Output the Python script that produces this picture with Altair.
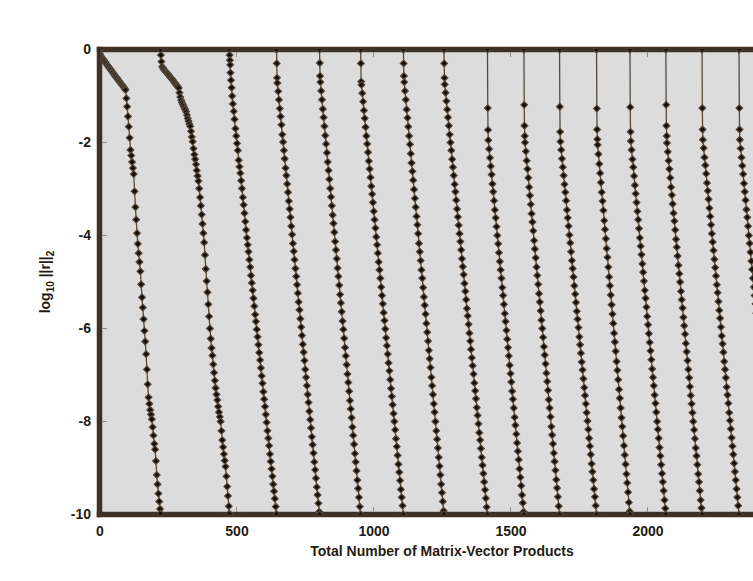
import altair as alt
import pandas as pd

# ---- data: (matrix-vector products, log10 ||r||2) per restart cycle ----
c01 = [(0,0),(1,-0.09),(3,-0.13),(6,-0.15),(9,-0.18),(12,-0.20),(15,-0.22),(18,-0.25),(21,-0.27),(24,-0.30),(27,-0.32),(30,-0.35),(33,-0.37),(36,-0.40),(39,-0.42),(42,-0.44),(45,-0.47),(48,-0.49),(51,-0.52),(54,-0.54),(57,-0.57),(60,-0.59),(63,-0.61),(66,-0.64),(69,-0.66),(72,-0.68),(75,-0.71),(78,-0.73),(81,-0.75),(84,-0.77),(87,-0.80),(90,-0.82),(93,-0.85),(95,-0.87),
       (98,-1.05),(101,-1.23),(104,-1.44),(107,-1.66),(110,-1.90),(113,-2.16),(116,-2.28),(119,-2.42),(122,-2.55),(125,-2.68),(128,-3.05),(131,-3.39),(134,-3.66),(137,-3.95),(140,-4.18),(143,-4.38),(146,-4.57),(149,-4.77),(152,-5.05),(155,-5.33),(158,-5.55),(161,-5.80),(164,-6.05),(167,-6.28),(170,-6.55),(173,-6.88),(176,-7.20),(179,-7.48),(182,-7.62),(185,-7.75),(188,-7.85),(191,-7.95),(194,-8.12),(197,-8.30),(200,-8.48),(203,-8.60),(206,-8.85),(209,-9.15),(212,-9.35),(215,-9.55),(218,-9.72),(221,-9.88),(223,-9.98)]
c02 = [(223,0),(224,-0.12),(226,-0.26),(229,-0.37),(232,-0.40),(235,-0.43),(238,-0.45),(241,-0.47),(244,-0.49),(247,-0.51),(250,-0.53),(253,-0.55),(256,-0.58),(259,-0.60),(262,-0.62),(265,-0.64),(268,-0.66),(271,-0.69),(274,-0.71),(277,-0.74),(280,-0.76),(283,-0.78),(286,-0.80),(289,-0.83),(292,-0.93),(295,-1.02),(298,-1.09),(301,-1.14),(304,-1.18),(307,-1.22),(310,-1.26),(313,-1.29),(316,-1.34),(319,-1.41),(322,-1.48),(325,-1.54),(328,-1.60),(331,-1.65),(334,-1.76),(337,-1.88),(340,-1.98),(343,-2.13),(346,-2.26),(349,-2.36),(352,-2.47),(355,-2.60),(358,-2.72),(361,-2.83),(364,-2.99),(367,-3.18),(370,-3.36),(373,-3.55),(376,-3.75),(379,-3.95),(382,-4.15),(385,-4.42),(388,-4.72),(391,-4.98),(394,-5.22),(397,-5.48),(400,-5.74),(403,-6.00),(406,-6.22),(409,-6.42),(412,-6.58),(415,-6.77),(418,-6.95),(421,-7.12),(424,-7.28),(427,-7.42),(430,-7.54),(433,-7.68),(436,-7.80),(439,-7.90),(442,-8.00),(445,-8.20),(448,-8.40),(451,-8.55),(454,-8.70),(457,-8.84),(460,-8.97),(463,-9.18),(466,-9.40),(469,-9.60),(472,-9.82),(474,-9.98)]
c03 = [(474,0),(475,-0.12),(476,-0.23),(477,-0.33),(478,-0.50),(480,-0.66),(482,-0.82),(484,-1.00),(487,-1.17),(490,-1.33),(493,-1.50),(496,-1.70),(499,-1.86),(502,-2.02),(505,-2.17),(508,-2.38),(511,-2.52),(514,-2.66),(517,-2.82),(520,-2.99),(523,-3.18),(526,-3.34),(529,-3.52),(532,-3.70),(535,-3.88),(538,-4.05),(541,-4.20),(544,-4.35),(547,-4.52),(550,-4.68),(553,-4.86),(556,-5.02),(559,-5.18),(562,-5.35),(565,-5.52),(568,-5.70),(571,-5.85),(574,-6.02),(577,-6.18),(580,-6.35),(583,-6.52),(586,-6.68),(589,-6.85),(592,-7.02),(595,-7.18),(598,-7.36),(601,-7.52),(604,-7.68),(607,-7.85),(610,-8.02),(613,-8.20),(616,-8.36),(619,-8.52),(622,-8.70),(625,-8.86),(628,-9.02),(631,-9.18),(634,-9.35),(637,-9.50),(640,-9.66),(643,-9.83),(646,-9.99)]
c04 = [(646,0),(647,-0.30),(648,-0.61),(649,-0.72),(652,-0.90),(655,-1.08),(658,-1.27),(661,-1.44),(664,-1.62),(667,-1.83),(670,-1.99),(673,-2.17),(676,-2.35),(679,-2.55),(682,-2.71),(685,-2.89),(688,-3.07),(691,-3.26),(694,-3.43),(697,-3.61),(700,-3.80),(703,-3.98),(706,-4.17),(709,-4.34),(712,-4.52),(715,-4.71),(718,-4.88),(721,-5.06),(724,-5.24),(727,-5.43),(730,-5.60),(733,-5.79),(736,-5.97),(739,-6.15),(742,-6.34),(745,-6.51),(748,-6.69),(751,-6.88),(754,-7.05),(757,-7.23),(760,-7.42),(763,-7.59),(766,-7.78),(769,-7.96),(772,-8.14),(775,-8.33),(778,-8.50),(781,-8.68),(784,-8.87),(787,-9.04),(790,-9.22),(793,-9.41),(796,-9.58),(799,-9.76),(802,-9.94),(803,-10.0)]
c05 = [(803,0),(804,-0.29),(805,-0.57),(806,-0.70),(809,-0.89),(812,-1.08),(815,-1.28),(818,-1.46),(821,-1.65),(824,-1.85),(827,-2.03),(830,-2.22),(833,-2.42),(836,-2.60),(839,-2.79),(842,-2.99),(845,-3.17),(848,-3.36),(851,-3.56),(854,-3.74),(857,-3.93),(860,-4.13),(863,-4.31),(866,-4.50),(869,-4.70),(872,-4.88),(875,-5.07),(878,-5.27),(881,-5.45),(884,-5.64),(887,-5.84),(890,-6.02),(893,-6.21),(896,-6.41),(899,-6.59),(902,-6.78),(905,-6.98),(908,-7.16),(911,-7.35),(914,-7.55),(917,-7.73),(920,-7.92),(923,-8.12),(926,-8.30),(929,-8.49),(932,-8.69),(935,-8.87),(938,-9.06),(941,-9.26),(944,-9.44),(947,-9.63),(950,-9.83),(953,-10.0)]
c06 = [(953,0),(954,-0.30),(955,-0.69),(956,-0.76),(959,-0.94),(962,-1.12),(965,-1.31),(968,-1.48),(971,-1.67),(974,-1.86),(977,-2.03),(980,-2.21),(983,-2.40),(986,-2.57),(989,-2.75),(992,-2.94),(995,-3.11),(998,-3.29),(1001,-3.48),(1004,-3.66),(1007,-3.84),(1010,-4.03),(1013,-4.20),(1016,-4.38),(1019,-4.57),(1022,-4.74),(1025,-4.92),(1028,-5.11),(1031,-5.29),(1034,-5.47),(1037,-5.66),(1040,-5.83),(1043,-6.01),(1046,-6.20),(1049,-6.37),(1052,-6.55),(1055,-6.74),(1058,-6.91),(1061,-7.10),(1064,-7.29),(1067,-7.46),(1070,-7.64),(1073,-7.83),(1076,-8.00),(1079,-8.18),(1082,-8.37),(1085,-8.54),(1088,-8.73),(1091,-8.92),(1094,-9.09),(1097,-9.27),(1100,-9.46),(1103,-9.63),(1106,-9.81),(1109,-10.0)]
c07 = [(1109,0),(1110,-0.30),(1111,-0.57),(1112,-0.70),(1115,-0.89),(1118,-1.08),(1121,-1.29),(1124,-1.47),(1127,-1.66),(1130,-1.86),(1133,-2.04),(1136,-2.24),(1139,-2.44),(1142,-2.62),(1145,-2.81),(1148,-3.01),(1151,-3.20),(1154,-3.39),(1157,-3.59),(1160,-3.77),(1163,-3.96),(1166,-4.17),(1169,-4.35),(1172,-4.54),(1175,-4.74),(1178,-4.92),(1181,-5.12),(1184,-5.32),(1187,-5.50),(1190,-5.69),(1193,-5.89),(1196,-6.08),(1199,-6.27),(1202,-6.47),(1205,-6.65),(1208,-6.84),(1211,-7.05),(1214,-7.23),(1217,-7.42),(1220,-7.62),(1223,-7.80),(1226,-8.00),(1229,-8.20),(1232,-8.38),(1235,-8.57),(1238,-8.77),(1241,-8.96),(1244,-9.15),(1247,-9.35),(1250,-9.53),(1253,-9.72),(1256,-9.92),(1257,-10.0)]
c08 = [(1257,0),(1258,-0.30),(1259,-0.61),(1260,-0.75),(1263,-0.93),(1266,-1.11),(1269,-1.29),(1272,-1.46),(1275,-1.64),(1278,-1.83),(1281,-2.00),(1284,-2.17),(1287,-2.36),(1290,-2.53),(1293,-2.71),(1296,-2.90),(1299,-3.06),(1302,-3.24),(1305,-3.43),(1308,-3.60),(1311,-3.78),(1314,-3.96),(1317,-4.13),(1320,-4.31),(1323,-4.50),(1326,-4.67),(1329,-4.84),(1332,-5.03),(1335,-5.20),(1338,-5.38),(1341,-5.57),(1344,-5.73),(1347,-5.91),(1350,-6.10),(1353,-6.27),(1356,-6.45),(1359,-6.63),(1362,-6.80),(1365,-6.98),(1368,-7.17),(1371,-7.34),(1374,-7.51),(1377,-7.70),(1380,-7.87),(1383,-8.05),(1386,-8.24),(1389,-8.40),(1392,-8.58),(1395,-8.77),(1398,-8.94),(1401,-9.12),(1404,-9.30),(1407,-9.47),(1410,-9.65),(1413,-9.84),(1416,-10.0)]
c09 = [(1416,0),(1417,-1.26),(1418,-1.73),(1419,-1.95),(1422,-2.14),(1425,-2.33),(1428,-2.51),(1431,-2.69),(1434,-2.89),(1437,-3.06),(1440,-3.25),(1443,-3.45),(1446,-3.62),(1449,-3.81),(1452,-4.00),(1455,-4.18),(1458,-4.37),(1461,-4.56),(1464,-4.74),(1467,-4.92),(1470,-5.12),(1473,-5.29),(1476,-5.48),(1479,-5.68),(1482,-5.85),(1485,-6.04),(1488,-6.23),(1491,-6.41),(1494,-6.59),(1497,-6.79),(1500,-6.97),(1503,-7.15),(1506,-7.35),(1509,-7.52),(1512,-7.71),(1515,-7.91),(1518,-8.08),(1521,-8.27),(1524,-8.46),(1527,-8.64),(1530,-8.82),(1533,-9.02),(1536,-9.20),(1539,-9.38),(1542,-9.58),(1545,-9.75),(1548,-9.94),(1549,-10.0)]
c10 = [(1549,0),(1550,-1.19),(1551,-1.64),(1552,-1.86),(1553,-2.00),(1556,-2.19),(1559,-2.39),(1562,-2.57),(1565,-2.76),(1568,-2.96),(1571,-3.14),(1574,-3.33),(1577,-3.53),(1580,-3.71),(1583,-3.90),(1586,-4.11),(1589,-4.29),(1592,-4.48),(1595,-4.68),(1598,-4.86),(1601,-5.05),(1604,-5.25),(1607,-5.43),(1610,-5.62),(1613,-5.82),(1616,-6.00),(1619,-6.19),(1622,-6.39),(1625,-6.57),(1628,-6.76),(1631,-6.96),(1634,-7.14),(1637,-7.33),(1640,-7.53),(1643,-7.71),(1646,-7.90),(1649,-8.11),(1652,-8.29),(1655,-8.48),(1658,-8.68),(1661,-8.86),(1664,-9.05),(1667,-9.25),(1670,-9.43),(1673,-9.62),(1676,-9.82),(1679,-10.0)]
c11 = [(1679,0),(1680,-1.23),(1681,-1.77),(1682,-1.98),(1685,-2.16),(1688,-2.35),(1691,-2.53),(1694,-2.71),(1697,-2.90),(1700,-3.07),(1703,-3.25),(1706,-3.45),(1709,-3.62),(1712,-3.80),(1715,-3.99),(1718,-4.16),(1721,-4.35),(1724,-4.54),(1727,-4.71),(1730,-4.89),(1733,-5.08),(1736,-5.26),(1739,-5.44),(1742,-5.63),(1745,-5.80),(1748,-5.98),(1751,-6.18),(1754,-6.35),(1757,-6.53),(1760,-6.72),(1763,-6.89),(1766,-7.08),(1769,-7.27),(1772,-7.44),(1775,-7.62),(1778,-7.81),(1781,-7.99),(1784,-8.17),(1787,-8.36),(1790,-8.53),(1793,-8.71),(1796,-8.91),(1799,-9.08),(1802,-9.26),(1805,-9.45),(1808,-9.62),(1811,-9.81),(1814,-10.0)]
c12 = [(1814,0),(1815,-1.27),(1816,-1.72),(1817,-1.93),(1818,-2.05),(1821,-2.25),(1824,-2.46),(1827,-2.66),(1830,-2.86),(1833,-3.07),(1836,-3.26),(1839,-3.46),(1842,-3.68),(1845,-3.87),(1848,-4.07),(1851,-4.28),(1854,-4.47),(1857,-4.68),(1860,-4.89),(1863,-5.08),(1866,-5.28),(1869,-5.49),(1872,-5.69),(1875,-5.89),(1878,-6.10),(1881,-6.29),(1884,-6.49),(1887,-6.71),(1890,-6.90),(1893,-7.10),(1896,-7.31),(1899,-7.50),(1902,-7.71),(1905,-7.92),(1908,-8.11),(1911,-8.31),(1914,-8.52),(1917,-8.72),(1920,-8.92),(1923,-9.13),(1926,-9.32),(1929,-9.52),(1932,-9.74),(1935,-9.93),(1936,-10.0)]
c13 = [(1936,0),(1937,-1.24),(1938,-1.77),(1939,-1.97),(1942,-2.16),(1945,-2.36),(1948,-2.53),(1951,-2.72),(1954,-2.92),(1957,-3.10),(1960,-3.29),(1963,-3.48),(1966,-3.66),(1969,-3.85),(1972,-4.05),(1975,-4.23),(1978,-4.41),(1981,-4.61),(1984,-4.79),(1987,-4.98),(1990,-5.18),(1993,-5.35),(1996,-5.54),(1999,-5.74),(2002,-5.92),(2005,-6.11),(2008,-6.30),(2011,-6.48),(2014,-6.67),(2017,-6.87),(2020,-7.05),(2023,-7.23),(2026,-7.43),(2029,-7.61),(2032,-7.80),(2035,-8.00),(2038,-8.17),(2041,-8.36),(2044,-8.56),(2047,-8.74),(2050,-8.93),(2053,-9.12),(2056,-9.30),(2059,-9.49),(2062,-9.69),(2065,-9.87),(2067,-10.0)]
c14 = [(2067,0),(2068,-1.19),(2069,-1.64),(2070,-1.86),(2071,-2.01),(2074,-2.20),(2077,-2.39),(2080,-2.57),(2083,-2.76),(2086,-2.96),(2089,-3.13),(2092,-3.32),(2095,-3.52),(2098,-3.69),(2101,-3.88),(2104,-4.08),(2107,-4.25),(2110,-4.44),(2113,-4.64),(2116,-4.82),(2119,-5.00),(2122,-5.20),(2125,-5.38),(2128,-5.56),(2131,-5.76),(2134,-5.94),(2137,-6.12),(2140,-6.32),(2143,-6.50),(2146,-6.69),(2149,-6.88),(2152,-7.06),(2155,-7.25),(2158,-7.44),(2161,-7.62),(2164,-7.81),(2167,-8.00),(2170,-8.18),(2173,-8.37),(2176,-8.57),(2179,-8.74),(2182,-8.93),(2185,-9.13),(2188,-9.30),(2191,-9.49),(2194,-9.69),(2197,-9.86),(2199,-10.0)]
c15 = [(2199,0),(2200,-1.26),(2201,-1.72),(2202,-1.94),(2205,-2.12),(2208,-2.32),(2211,-2.49),(2214,-2.67),(2217,-2.87),(2220,-3.04),(2223,-3.22),(2226,-3.41),(2229,-3.59),(2232,-3.77),(2235,-3.96),(2238,-4.14),(2241,-4.32),(2244,-4.51),(2247,-4.69),(2250,-4.87),(2253,-5.06),(2256,-5.23),(2259,-5.42),(2262,-5.61),(2265,-5.78),(2268,-5.97),(2271,-6.16),(2274,-6.33),(2277,-6.51),(2280,-6.71),(2283,-6.88),(2286,-7.06),(2289,-7.26),(2292,-7.43),(2295,-7.61),(2298,-7.81),(2301,-7.98),(2304,-8.16),(2307,-8.35),(2310,-8.53),(2313,-8.71),(2316,-8.90),(2319,-9.08),(2322,-9.26),(2325,-9.45),(2328,-9.63),(2331,-9.81),(2334,-10.0)]
c16 = [(2334,0),(2335,-1.26),(2336,-1.72),(2337,-1.94),(2340,-2.13),(2343,-2.32),(2346,-2.50),(2349,-2.68),(2352,-2.88),(2355,-3.06),(2358,-3.24),(2361,-3.44),(2364,-3.61),(2367,-3.80),(2370,-4.00),(2373,-4.17),(2376,-4.36),(2379,-4.55),(2382,-4.73),(2385,-4.92),(2388,-5.11),(2391,-5.29),(2394,-5.47),(2397,-5.67),(2400,-5.85),(2403,-6.03),(2406,-6.23),(2409,-6.40),(2412,-6.59),(2415,-6.79),(2418,-6.96),(2421,-7.15),(2424,-7.34),(2427,-7.52),(2430,-7.71),(2433,-7.90),(2436,-8.08),(2439,-8.26),(2442,-8.46),(2445,-8.64),(2448,-8.82),(2451,-9.02),(2454,-9.19),(2457,-9.38),(2460,-9.58),(2463,-9.75),(2466,-9.94),(2467,-10.0)]

x_label_values = [0, 500, 1000, 1500, 2000]
y_label_values = [0, -2, -4, -6, -8, -10]
x_inner_ticks = [500, 1000, 1500, 2000]
y_inner_ticks = [-2, -4, -6, -8]
x_visible_max = 2385   # the plot continues past the right edge of the picture
x_title = "Total Number of Matrix-Vector Products"
# y title "log10 ||r||2" with subscripts: (text, is_subscript, space before)
y_title_parts = [("log", False, 0), ("10", True, 0), ("||r||", False, 1), ("2", True, 0)]

curves = [c01, c02, c03, c04, c05, c06, c07, c08, c09, c10, c11, c12, c13, c14, c15, c16]
rows = []
for i, c in enumerate(curves):
    for j, (mv, lr) in enumerate(c):
        rows.append({"cycle": i + 1, "k": j, "mv": mv, "logr": lr})
df = pd.DataFrame(rows)

FRAME = "#3f3124"
TEXT = "#241b13"
BG = "#dcdcdc"
FONT = "Liberation Sans"
W, H = 653.5, 465

xscale = alt.Scale(domain=[0, x_visible_max], nice=False, zero=False)
yscale = alt.Scale(domain=[-10, 0], nice=False, zero=False)

xaxis = alt.Axis(values=x_label_values, title=x_title,
                 domain=False, ticks=False, grid=False, labelPadding=10,
                 labelFlush=False, labelOverlap=False, titlePadding=6,
                 titleX=342, titleAlign="center",
                 labelExpr="'' + datum.value")
yaxis = alt.Axis(values=y_label_values, title=None,
                 domain=False, ticks=False, grid=False, labelPadding=9,
                 labelFlush=False, labelOverlap=False,
                 labelExpr="'' + datum.value")

# frame: left, top and bottom edges (right edge lies outside the picture)
frame_h = alt.Chart(pd.DataFrame({"logr": [0, -10]})).mark_rule(
    color=FRAME, strokeWidth=5.5, strokeCap="square").encode(
    y=alt.Y("logr:Q", scale=yscale, axis=yaxis))
frame_v = alt.Chart(pd.DataFrame({"mv": [0]})).mark_rule(
    color=FRAME, strokeWidth=5.5, strokeCap="square").encode(
    x=alt.X("mv:Q", scale=xscale, axis=xaxis))

base = alt.Chart(df)
lines = base.mark_line(color="#55483b", strokeWidth=1.3, clip=True).encode(
    x=alt.X("mv:Q", scale=xscale, axis=xaxis),
    y=alt.Y("logr:Q", scale=yscale, axis=yaxis),
    detail="cycle:N",
    order="k:Q",
)
points = base.mark_point(shape="diamond", filled=True, size=44, fill="#140d07",
                         stroke="#54473a", strokeWidth=1.2, opacity=1, clip=True).encode(
    x=alt.X("mv:Q", scale=xscale, axis=xaxis),
    y=alt.Y("logr:Q", scale=yscale, axis=yaxis),
)

xt = pd.DataFrame({"mv": x_inner_ticks})
yt = pd.DataFrame({"logr": y_inner_ticks})
tick_color = "#948b82"
bottom_ticks = alt.Chart(xt).mark_tick(orient="vertical", size=5, thickness=1,
                                       color=tick_color, yOffset=-5, opacity=1).encode(
    x=alt.X("mv:Q", scale=xscale, axis=xaxis), y=alt.datum(-10))
top_ticks = alt.Chart(xt).mark_tick(orient="vertical", size=5, thickness=1,
                                    color=tick_color, yOffset=5, opacity=1).encode(
    x=alt.X("mv:Q", scale=xscale, axis=xaxis), y=alt.datum(0))
left_ticks = alt.Chart(yt).mark_tick(orient="horizontal", size=5, thickness=1,
                                     color=tick_color, xOffset=5, opacity=1).encode(
    y=alt.Y("logr:Q", scale=yscale, axis=yaxis), x=alt.datum(0))

# rotated y-axis title assembled from pieces so the subscripts are real smaller text
MAIN_FS, SUB_FS = 14, 10
char_w = {"l": 0.278, "o": 0.611, "g": 0.611, "1": 0.556, "0": 0.556, "2": 0.556,
          " ": 0.278, "|": 0.280, "r": 0.389}
def text_len(s, fs):
    return sum(char_w.get(ch, 0.55) for ch in s) * fs
total = sum(text_len(t, SUB_FS if sub else MAIN_FS) + sp * 0.278 * MAIN_FS
            for t, sub, sp in y_title_parts)
title_layers = []
pos = H / 2 + total / 2          # start at the bottom, text reads upwards
for t, sub, sp in y_title_parts:
    fs = SUB_FS if sub else MAIN_FS
    pos -= sp * 0.278 * MAIN_FS
    title_layers.append(
        alt.Chart(pd.DataFrame({"t": [t]})).mark_text(
            angle=270, align="left", baseline="alphabetic", font=FONT,
            fontSize=fs, fontWeight="bold", color=TEXT).encode(
            text="t:N",
            x=alt.value(-49.5 + (3.5 if sub else 0)),
            y=alt.value(pos)))
    pos -= text_len(t, fs)

chart = alt.layer(frame_h, frame_v, bottom_ticks, top_ticks, left_ticks, lines, points,
                  *title_layers).properties(
    width=W, height=H,
    autosize=alt.AutoSizeParams(type="none"),
    padding={"left": 99.5, "top": 49.5, "right": 0, "bottom": 66},
    background="white",
).configure_view(
    fill=BG, stroke=None,
).configure_axis(
    labelFont=FONT, labelFontSize=14, labelFontWeight="bold", labelColor=TEXT,
    titleFont=FONT, titleFontSize=14, titleFontWeight="bold", titleColor=TEXT,
)

chart.save("out.html", embed_options={"renderer": "svg", "actions": False})
